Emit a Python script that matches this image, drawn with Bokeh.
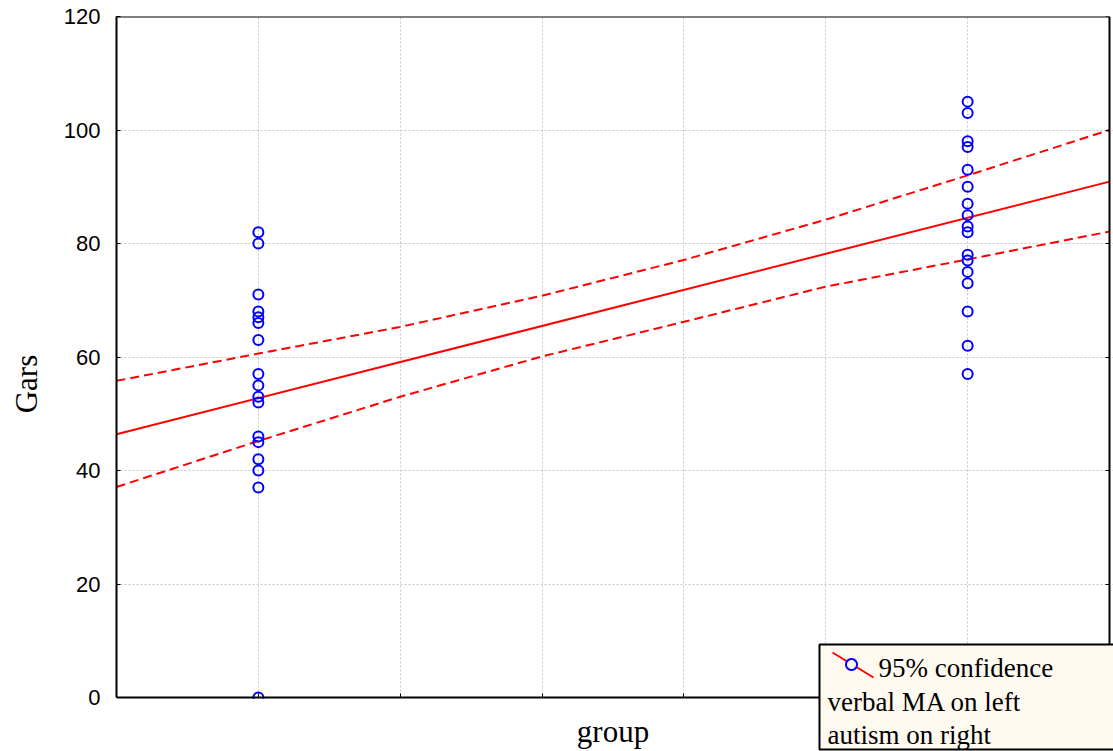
import math
from bokeh.plotting import figure
from bokeh.models import (Range1d, LinearAxis, FixedTicker, CustomJSTickFormatter,
                          BoxAnnotation, Label, PolyAnnotation)
from bokeh.embed import file_html
from bokeh.resources import INLINE

# ---- data ----
verbal_ma = [82, 80, 71, 68, 67, 66, 63, 57, 55, 53, 52, 46, 45, 42, 40, 37, 0]
autism = [105, 103, 98, 97, 93, 90, 87, 85, 83, 82, 78, 77, 75, 73, 68, 62, 57]
group_codes = [1.0, 2.0]
fit_x = [0.8, 2.2]
fit_y = [46.4, 90.9]
band_x = [0.8, 1.0, 1.2, 1.4, 1.6, 1.8, 2.0, 2.2]
band_upper = [55.8, 60.6, 65.3, 70.8, 77.1, 84.2, 92.0, 100.0]
band_lower = [37.1, 45.2, 53.0, 60.1, 66.2, 72.4, 77.2, 82.1]
x_ticks = [0.8, 1.0, 1.2, 1.4, 1.6, 1.8, 2.0, 2.2]
y_ticks = [0, 20, 40, 60, 80, 100, 120]
legend_lines = ["95% confidence", "verbal MA on left", "autism on right"]

RED = "#ff0000"
BLUE = "#0000ff"
CREAM = "#fffaf0"

# plot box: x 0.8..2.2 -> px 116..1109, y 0..120 -> px 697..16
# the frame is extended to the canvas edge so the legend box can overhang the axes
W, H = 1113, 751
LEFT, TOP, RIGHT_PX, BOTTOM_PX = 116, 16, 1109, 697
xs_per_px = (x_ticks[-1] - x_ticks[0]) / (RIGHT_PX - LEFT)
ys_per_px = (y_ticks[-1] - y_ticks[0]) / (BOTTOM_PX - TOP)
x_end = x_ticks[-1] + (W - RIGHT_PX) * xs_per_px
y_start = y_ticks[0] - (H - BOTTOM_PX) * ys_per_px

p = figure(width=W, height=H, x_range=Range1d(x_ticks[0], x_end),
           y_range=Range1d(y_start, y_ticks[-1]),
           output_backend="svg", toolbar_location=None,
           min_border_left=LEFT, min_border_right=0, min_border_top=TOP, min_border_bottom=0,
           x_axis_location=None, y_axis_label="Gars")
p.outline_line_color = None
p.background_fill_color = "white"

empty = CustomJSTickFormatter(code="return ''")

# left axis
ya = p.yaxis[0]
ya.ticker = FixedTicker(ticks=y_ticks)
ya.bounds = (y_ticks[0], y_ticks[-1])
ya.major_tick_in = 4
ya.major_tick_out = 0
ya.minor_tick_line_color = None
ya.axis_line_width = 2
ya.axis_line_color = "black"
ya.major_tick_line_color = "black"
ya.major_label_text_font = "Liberation Sans"
ya.major_label_text_font_size = "22px"
ya.major_label_text_color = "black"
ya.major_label_standoff = 16
ya.axis_label_text_font = "Liberation Serif"
ya.axis_label_text_font_size = "31px"
ya.axis_label_text_font_style = "normal"
ya.axis_label_text_color = "black"
ya.axis_label_standoff = 17

# bottom axis at y = 0
xa = LinearAxis(fixed_location=y_ticks[0], bounds=(x_ticks[0], x_ticks[-1]),
                ticker=FixedTicker(ticks=x_ticks), formatter=empty,
                major_tick_in=4, major_tick_out=0, minor_tick_line_color=None,
                axis_line_width=2, major_label_standoff=5,
                axis_label="group", axis_label_text_font="Liberation Serif",
                axis_label_text_font_size="31px", axis_label_text_font_style="normal",
                axis_label_text_color="black", axis_label_standoff=16)
p.add_layout(xa, "below")

# right axis at x = 2.2 (ticks only)
ra = LinearAxis(fixed_location=x_ticks[-1], bounds=(y_ticks[0], y_ticks[-1]),
                ticker=FixedTicker(ticks=y_ticks), formatter=empty,
                major_tick_in=4, major_tick_out=0, minor_tick_line_color=None,
                axis_line_width=2, major_label_standoff=0)
p.add_layout(ra, "right")

# top border at y = 120
ta = LinearAxis(fixed_location=y_ticks[-1], bounds=(x_ticks[0], x_ticks[-1]),
                ticker=FixedTicker(ticks=x_ticks), formatter=empty,
                major_tick_line_color=None, minor_tick_line_color=None,
                axis_line_width=2, major_label_standoff=0)
p.add_layout(ta, "above")

# grids
p.xgrid.ticker = FixedTicker(ticks=x_ticks)
p.ygrid.ticker = FixedTicker(ticks=y_ticks)
for g in (p.xgrid[0], p.ygrid[0]):
    g.grid_line_color = "#c8c8c8"
    g.grid_line_dash = "2 2"
    g.grid_line_width = 1

# fit line and confidence band
p.line(fit_x, fit_y, line_color=RED, line_width=2)
p.line(band_x, band_upper, line_color=RED, line_width=2, line_dash="9 5")
p.line(band_x, band_lower, line_color=RED, line_width=2, line_dash="9 5")

# points
p.scatter([group_codes[0]] * len(verbal_ma), verbal_ma, marker="circle", size=10,
          line_color=BLUE, line_width=2, fill_color=None)
p.scatter([group_codes[1]] * len(autism), autism, marker="circle", size=10,
          line_color=BLUE, line_width=2, fill_color=None)

# white mask below the x axis (hides grid lines and half of the marker at 0)
mask = BoxAnnotation(top=y_ticks[0] - 1.3 * ys_per_px, top_units="data",
                     fill_color="white", fill_alpha=1.0, line_color=None, level="glyph")
p.add_layout(mask)

# ---- legend box (screen coords relative to frame bottom-left) ----
def sx(cx):
    return cx - LEFT

def sy(cy):
    return H - cy

box = BoxAnnotation(left=sx(819), right=sx(1125), top=sy(644), bottom=sy(749),
                    left_units="screen", right_units="screen",
                    top_units="screen", bottom_units="screen",
                    fill_color=CREAM, fill_alpha=1.0, line_color="black",
                    line_alpha=1.0, line_width=2, level="overlay")
p.add_layout(box)

sym_line = PolyAnnotation(xs=[sx(832), sx(873)], ys=[sy(652), sy(677)],
                          xs_units="screen", ys_units="screen",
                          line_color=RED, line_alpha=1.0, line_width=2, fill_alpha=0,
                          level="overlay")
p.add_layout(sym_line)
ccx, ccy, r = sx(851), sy(664), 5.5
circ_xs = [ccx + r * math.cos(2 * math.pi * k / 32) for k in range(32)]
circ_ys = [ccy + r * math.sin(2 * math.pi * k / 32) for k in range(32)]
sym_circ = PolyAnnotation(xs=circ_xs, ys=circ_ys, xs_units="screen", ys_units="screen",
                          line_color=BLUE, line_alpha=1.0, line_width=2,
                          fill_color=CREAM, fill_alpha=1.0, level="overlay")
p.add_layout(sym_circ)

label_pos = [(878, 667), (827, 701), (827, 734)]
for txt, (lx, ly) in zip(legend_lines, label_pos):
    p.add_layout(Label(x=sx(lx), y=sy(ly), x_units="screen", y_units="screen", text=txt,
                       text_font="Liberation Serif", text_font_size="27px",
                       text_color="black", text_baseline="alphabetic", level="overlay"))

open("out.html", "w").write(file_html(p, INLINE))
